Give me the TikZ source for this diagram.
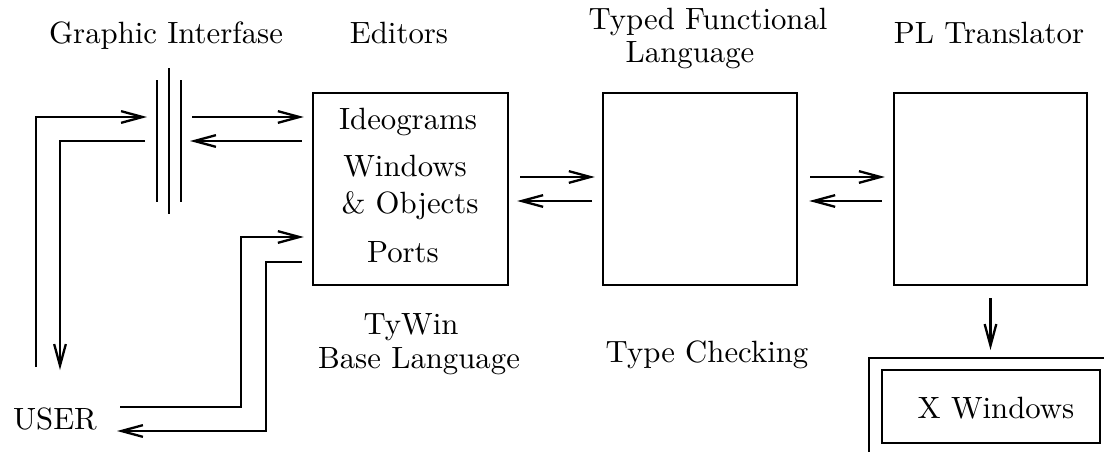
\documentclass[tikz,border=0pt]{standalone}
\usetikzlibrary{arrows.meta}
\tikzset{
  ln/.style={line width=0.75pt},
  arr/.style={ln, -{Straight Barb[length=7pt,width=3.8pt]}},
  box/.style={draw, ln, inner sep=0pt, minimum height=62.4pt},
  lbl/.style={anchor=base, inner sep=0pt, font=\normalsize},
}
\begin{document}
\begin{tikzpicture}[x=0.325pt, y=-0.325pt]
\useasboundingbox (0,0) rectangle (1104,452);

% boxes
\node[box, minimum width=63.4pt] (box1) at (410.5,189) {};
\node[box, minimum width=63.05pt] (box2) at (700,189) {};
\node[box, minimum width=62.7pt] (box3) at (990.5,189) {};
\node[draw, ln, inner sep=0pt, minimum width=70.85pt, minimum height=23.7pt] (xw) at (991,406.5) {};

% graphic interface bars
\draw[ln] (157,80) -- (157,202);
\draw[ln] (169,68) -- (169,214);
\draw[ln] (181,80) -- (181,202);

% outer X frame
\draw[ln] (869,452) -- (869,358) -- (1104,358);

% labels
\node[lbl] (gi) at (166,43) {Graphic Interfase};
\node[lbl] (ed) at (399,43) {Editors};
\node[lbl] (tf1) at (708,29) {Typed Functional};
\node[lbl] (tf2) at (690,62) {Language};
\node[lbl] (pl) at (989,43) {PL Translator};
\node[lbl] (ideo) at (408,129) {Ideograms};
\node[lbl] (win) at (405,177) {Windows};
\node[lbl] (obj) at (410,213) {\& Objects};
\node[lbl] (ports) at (403,262) {Ports};
\node[lbl] (ty1) at (411,334) {TyWin};
\node[lbl] (ty2) at (419,368) {Base Language};
\node[lbl] (tc) at (707,362) {Type Checking};
\node[lbl] (user) at (55,430) {USER};
\node[lbl] (xwt) at (996,418) {X Windows};

% user <-> graphic interface
\coordinate (u1) at (36,367);
\coordinate (u2) at (60,370);
\coordinate (giIn) at (147,117);
\coordinate (giOut) at (145,141);
\draw[arr] (u1) |- (giIn);
\draw[arr] (giOut) -| (u2);

% graphic interface <-> editors
\draw[arr, shorten >=2.6pt] (192,117) -- (box1.west |- 0,117);
\draw[arr, shorten <=3.2pt] (box1.west |- 0,141) -- (190,141);

% user <-> ports
\coordinate (p1) at (120,407);
\coordinate (p2) at (117,431);
\draw[arr, shorten >=2.6pt] (p1) -| (241,237) -- (box1.west |- 0,237);
\draw[arr, shorten <=3.2pt] (box1.west |- 0,262) -| (266,431) -- (p2);

% box1 <-> box2
\draw[arr, shorten <=3.6pt, shorten >=2.3pt] ([yshift=3.9pt]box1.east) -- ([yshift=3.9pt]box2.west);
\draw[arr, shorten <=3.2pt, shorten >=2.6pt] ([yshift=-3.9pt]box2.west) -- ([yshift=-3.9pt]box1.east);

% box2 <-> box3
\draw[arr, shorten <=3.9pt, shorten >=2.6pt] ([yshift=3.9pt]box2.east) -- ([yshift=3.9pt]box3.west);
\draw[arr, shorten <=3.6pt, shorten >=3.6pt] ([yshift=-3.9pt]box3.west) -- ([yshift=-3.9pt]box2.east);

% box3 -> X Windows
\draw[arr, shorten <=3.9pt, shorten >=2.6pt] (box3.south) -- (box3.south |- 0,358);
\end{tikzpicture}
\end{document}
